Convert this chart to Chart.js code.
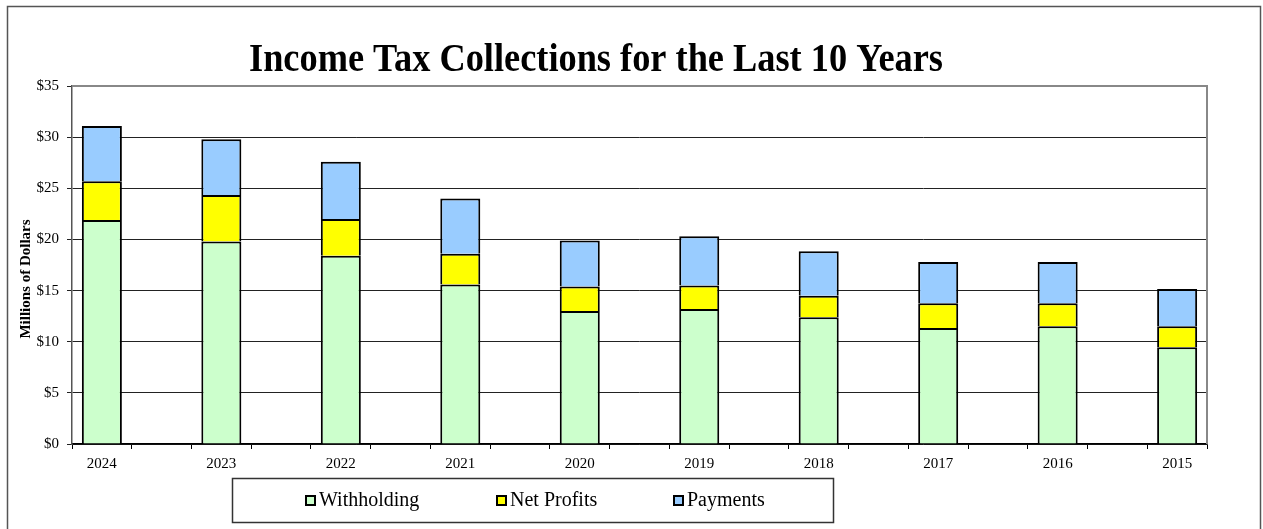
<!DOCTYPE html>
<html>
<head>
<meta charset="utf-8">
<title>Income Tax Collections</title>
<script src="https://cdn.jsdelivr.net/npm/chart.js@4"></script>
<style>
  html, body { margin: 0; padding: 0; background: #fff; }
  #wrap { width: 1263px; height: 529px; position: relative; }
</style>
</head>
<body>
<div id="wrap"><canvas id="taxChart"></canvas></div>
<script>
// values, millions of dollars
const years = ['2024', '2023', '2022', '2021', '2020', '2019', '2018', '2017', '2016', '2015'];
const withholding = [21.9, 19.8, 18.4, 15.6, 13.0, 13.2, 12.4, 11.35, 11.5, 9.45];
const netProfits = [3.8, 4.55, 3.6, 3.0, 2.4, 2.3, 2.1, 2.4, 2.25, 2.05];
const payments = [5.4, 5.45, 5.6, 5.4, 4.5, 4.8, 4.35, 4.05, 4.05, 3.65];
const yTicks = [0, 5, 10, 15, 20, 25, 30, 35];

const serif = '"Liberation Serif", "Times New Roman", serif';

// the original sheet leaves an empty slot between years
const spread = arr => arr.flatMap((v, i) => i < arr.length - 1 ? [v, null] : [v]);
const slotLabels = spread(years).map(v => v || '');

// frame, title, axis label and boxed legend
const decorations = {
  id: 'decorations',
  beforeDraw(chart) {
    const ctx = chart.ctx;
    ctx.save();
    ctx.fillStyle = '#fff';
    ctx.fillRect(0, 0, chart.width, chart.height);
    ctx.strokeStyle = '#555';
    ctx.lineWidth = 1.5;
    ctx.strokeRect(7.5, 6.5, 1253, 560);
    ctx.restore();
  },
  afterDraw(chart) {
    const ctx = chart.ctx;
    const a = chart.chartArea;
    ctx.save();

    // top and right edge of plot
    ctx.strokeStyle = '#888';
    ctx.lineWidth = 2;
    ctx.beginPath();
    ctx.moveTo(a.left, a.top);
    ctx.lineTo(a.right, a.top);
    ctx.lineTo(a.right, a.bottom);
    ctx.stroke();

    // title
    ctx.fillStyle = '#000';
    ctx.font = 'bold 40px ' + serif;
    ctx.textAlign = 'center';
    ctx.textBaseline = 'alphabetic';
    ctx.fillText('Income Tax Collections for the Last 10 Years', 596, 71, 694);

    // y axis label
    ctx.save();
    ctx.translate(26, 279);
    ctx.rotate(-Math.PI / 2);
    ctx.font = 'bold 15px ' + serif;
    ctx.textBaseline = 'middle';
    ctx.fillText('Millions of Dollars', 0, 0);
    ctx.restore();

    // legend box
    ctx.strokeStyle = '#333';
    ctx.lineWidth = 1.5;
    ctx.strokeRect(232.5, 478.5, 601, 44);
    const itemX = [306, 497, 674];
    ctx.font = '20px ' + serif;
    ctx.textAlign = 'left';
    ctx.textBaseline = 'middle';
    chart.data.datasets.forEach((ds, i) => {
      const x = itemX[i];
      ctx.fillStyle = ds.backgroundColor;
      ctx.fillRect(x, 496, 9, 9);
      ctx.strokeStyle = '#000';
      ctx.lineWidth = 2;
      ctx.strokeRect(x, 496, 9, 9);
      ctx.fillStyle = '#000';
      ctx.fillText(ds.label, x + 13, 501);
    });
    ctx.restore();
  }
};

const ctx = document.getElementById('taxChart').getContext('2d');
new Chart(ctx, {
  type: 'bar',
  data: {
    labels: slotLabels,
    datasets: [
      { label: 'Withholding', data: spread(withholding), backgroundColor: '#CCFFCC' },
      { label: 'Net Profits', data: spread(netProfits), backgroundColor: '#FFFF00' },
      { label: 'Payments', data: spread(payments), backgroundColor: '#99CCFF' }
    ].map(ds => Object.assign(ds, {
      borderColor: '#000',
      borderWidth: 2,
      barPercentage: 0.67,
      categoryPercentage: 1,
      inflateAmount: 0
    }))
  },
  options: {
    responsive: true,
    maintainAspectRatio: false,
    animation: false,
    layout: { padding: { left: 0, right: 56, top: 86, bottom: 55 } },
    scales: {
      x: {
        stacked: true,
        offset: true,
        afterFit: s => { s.height = 30; },
        grid: {
          offset: true,
          drawOnChartArea: false,
          tickLength: 5,
          color: '#000'
        },
        border: { color: '#000', width: 1.5 },
        ticks: {
          color: '#000',
          padding: 6,
          autoSkip: false,
          maxRotation: 0,
          font: { family: serif, size: 15 }
        }
      },
      y: {
        stacked: true,
        min: 0,
        max: 35,
        afterFit: s => { s.width = 72; },
        afterBuildTicks: s => { s.ticks = yTicks.map(v => ({ value: v })); },
        grid: { color: '#222', lineWidth: 1, tickLength: 5 },
        border: { color: '#555', width: 1.5 },
        ticks: {
          color: '#000',
          padding: 8,
          font: { family: serif, size: 15 },
          callback: v => '$' + v
        }
      }
    },
    plugins: {
      legend: { display: false },
      title: { display: false },
      tooltip: { enabled: false }
    }
  },
  plugins: [decorations]
});
</script>
</body>
</html>
